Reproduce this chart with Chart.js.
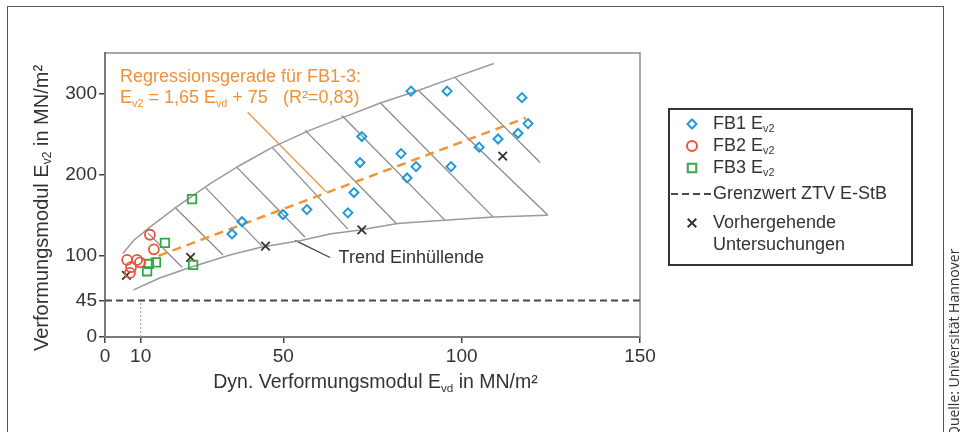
<!DOCTYPE html>
<html>
<head>
<meta charset="utf-8">
<script src="https://cdn.jsdelivr.net/npm/chart.js@4.4.1/dist/chart.umd.min.js"></script>
<style>
  body { margin: 0; background: #fff; }
</style>
</head>
<body>
<canvas id="myChart" width="960" height="432"></canvas>
<script>
/* data */
const xTicks = [0, 10, 50, 100, 150];
const yTicks = [0, 45, 100, 200, 300];

const fb1X = [35.6, 38.4, 49.9, 56.6, 68.1, 69.8, 71.5, 72.0, 83.0, 84.7, 87.2, 85.8, 95.9, 97.0, 104.9, 110.2, 115.8, 118.6, 116.9];
const fb1Y = [127, 142, 151, 157, 153, 178, 215, 247, 226, 196, 210, 303, 303, 210, 234, 244, 251, 263, 295];

const fb2X = [12.6, 13.7, 6.2, 9.0, 9.8, 7.3, 7.0];
const fb2Y = [126, 108, 95, 95, 92, 86, 79];

const fb3X = [24.4, 16.8, 14.3, 12.3, 11.8, 24.7];
const fb3Y = [170, 116, 92, 90, 81, 89];

const prevX = [6, 24, 45, 72, 111.5];
const prevY = [76, 98, 112, 132, 223];

const upperX = [5, 8, 12.5, 20, 29.5, 38, 47, 57.5, 67, 77, 88, 98, 109];
const upperY = [103, 119, 135, 160, 189, 212, 234, 255, 271, 288, 304, 320, 337];
const lowerX = [8, 15.5, 24, 35, 44, 55, 63, 71.5, 82, 95, 109, 124];
const lowerY = [58, 73, 86, 101, 111, 119, 127, 132, 140, 144, 148, 150];

const hatchTopX = [12.1, 19.6, 28.0, 37.0, 46.8, 56.1, 66.4, 77.1, 87.8, 98.1];
const hatchTopY = [128, 160, 185, 209, 234, 255, 273, 289, 304, 320];
const hatchBotX = [21.6, 33.1, 44.0, 56.1, 68.1, 81.9, 95.3, 108.8, 124.2, 122.0];
const hatchBotY = [86, 101, 112, 123, 133, 139, 144, 148, 150, 215];

const regX = [15, 118];
const regY = [100, 270];
const grenzwert = 45;
const markX = 10;

const calloutRegX = [40, 62];
const calloutRegY = [277, 179];
const calloutTrendX = [53.3, 63.1];
const calloutTrendY = [119, 98];

/* label anchors (data units) */
const regLabelAt = { x: 4.2, y1: 320, y2: 294 };
const trendLabelAt = { x: 65.5, y: 97 };

const FONT = '"Liberation Sans", Arial, sans-serif';
const TXT = '#333333';
const ORANGE = '#f0913a';

const pts = (xs, ys) => xs.map((x, i) => ({ x: x, y: ys[i] }));

function lineSet(data, color, width, dash) {
  return {
    data: data,
    showLine: true,
    borderColor: color,
    borderWidth: width,
    borderDash: dash || [],
    pointRadius: 0,
    fill: false,
    order: 10,
  };
}

const styles = {
  fb1: { pointStyle: 'rectRot', radius: 4.5, borderWidth: 2, color: '#1f9ad8' },
  fb2: { pointStyle: 'circle', radius: 5, borderWidth: 1.8, color: '#e8553c' },
  fb3: { pointStyle: 'rect', radius: 6, borderWidth: 1.8, color: '#35a845' },
  prev: { pointStyle: 'crossRot', radius: 6, borderWidth: 1.8, color: '#333333' },
};

function pointSet(data, st) {
  return {
    data: data,
    showLine: false,
    pointStyle: st.pointStyle,
    pointRadius: st.radius,
    pointBorderWidth: st.borderWidth,
    pointBorderColor: st.color,
    pointBackgroundColor: 'rgba(0,0,0,0)',
    order: 1,
  };
}

const datasets = [];
datasets.push(lineSet(pts(upperX, upperY), '#9a9a9a', 1.5));
datasets.push(lineSet(pts(lowerX, lowerY), '#9a9a9a', 1.5));
for (let i = 0; i < hatchTopX.length; i++) {
  datasets.push(lineSet([{ x: hatchTopX[i], y: hatchTopY[i] }, { x: hatchBotX[i], y: hatchBotY[i] }], '#8a8a8a', 1.3));
}
datasets.push(lineSet([{ x: 0, y: grenzwert }, { x: 150, y: grenzwert }], '#4a4a4a', 2, [7, 4]));
datasets.push(lineSet([{ x: markX, y: 0 }, { x: markX, y: grenzwert }], '#999999', 1, [2, 2]));
datasets.push(lineSet(pts(calloutRegX, calloutRegY), ORANGE, 1.2));
datasets.push(lineSet(pts(calloutTrendX, calloutTrendY), '#444444', 1.3));
datasets.push(Object.assign(lineSet(pts(regX, regY), '#f29433', 2.5, [9, 6]), { order: 5 }));
datasets.push(pointSet(pts(fb1X, fb1Y), styles.fb1));
datasets.push(pointSet(pts(fb2X, fb2Y), styles.fb2));
datasets.push(pointSet(pts(fb3X, fb3Y), styles.fb3));
datasets.push(pointSet(pts(prevX, prevY), styles.prev));

/* text with subscripts: parts = [[text, isSub], ...] */
function richText(ctx, parts, x, y, size, align) {
  let w = 0;
  parts.forEach(p => {
    ctx.font = (p[1] ? size * 0.6 : size) + 'px ' + FONT;
    w += ctx.measureText(p[0]).width;
  });
  let cx = align === 'center' ? x - w / 2 : x;
  ctx.textAlign = 'left';
  ctx.textBaseline = 'middle';
  parts.forEach(p => {
    const s = p[1] ? size * 0.6 : size;
    ctx.font = s + 'px ' + FONT;
    ctx.fillText(p[0], cx, p[1] ? y + size * 0.3 : y);
    cx += ctx.measureText(p[0]).width;
  });
}

function marker(ctx, st, x, y) {
  ctx.save();
  ctx.strokeStyle = st.color;
  ctx.fillStyle = 'rgba(0,0,0,0)';
  Chart.helpers.drawPoint(ctx, { pointStyle: st.pointStyle, radius: st.radius, borderWidth: st.borderWidth, rotation: 0 }, x, y);
  ctx.restore();
}

const decor = {
  id: 'decor',
  beforeDraw(chart) {
    const ctx = chart.ctx;
    ctx.save();
    ctx.strokeStyle = '#555';
    ctx.lineWidth = 1;
    ctx.strokeRect(7.5, 6.5, 936, 440);
    ctx.restore();
  },
  beforeDatasetsDraw(chart) {
    const ctx = chart.ctx, a = chart.chartArea;
    ctx.save();
    ctx.strokeStyle = '#8c8c8c';
    ctx.lineWidth = 1.5;
    ctx.strokeRect(a.left, a.top, a.right - a.left, a.bottom - a.top);
    ctx.restore();
  },
  afterDraw(chart) {
    const ctx = chart.ctx, a = chart.chartArea;
    const xs = chart.scales.x, ys = chart.scales.y;
    ctx.save();

    // axis titles
    ctx.fillStyle = TXT;
    richText(ctx, [['Dyn. Verformungsmodul E'], ['vd', 1], [' in MN/m²']], (a.left + a.right) / 2 + 3, 383, 19.5, 'center');
    ctx.save();
    ctx.translate(42, 208);
    ctx.rotate(-Math.PI / 2);
    richText(ctx, [['Verformungsmodul E'], ['v2', 1], [' in MN/m²']], 0, 0, 20, 'center');
    ctx.restore();

    // regression label
    ctx.fillStyle = ORANGE;
    const rx = xs.getPixelForValue(regLabelAt.x);
    richText(ctx, [['Regressionsgerade für FB1-3:']], rx, ys.getPixelForValue(regLabelAt.y1), 18);
    richText(ctx, [['E'], ['v2', 1], [' = 1,65 E'], ['vd', 1], [' + 75   (R²=0,83)']], rx, ys.getPixelForValue(regLabelAt.y2), 18);

    // trend label
    ctx.fillStyle = TXT;
    richText(ctx, [['Trend Einhüllende']], xs.getPixelForValue(trendLabelAt.x), ys.getPixelForValue(trendLabelAt.y), 18);

    // legend box
    ctx.strokeStyle = '#2e3440';
    ctx.lineWidth = 2;
    ctx.strokeRect(669, 109, 243, 156);
    const mx = 692, tx = 713;
    marker(ctx, styles.fb1, mx, 124);
    ctx.fillStyle = TXT;
    richText(ctx, [['FB1 E'], ['v2', 1]], tx, 124, 18);
    marker(ctx, styles.fb2, mx, 146);
    ctx.fillStyle = TXT;
    richText(ctx, [['FB2 E'], ['v2', 1]], tx, 146, 18);
    marker(ctx, styles.fb3, mx, 168);
    ctx.fillStyle = TXT;
    richText(ctx, [['FB3 E'], ['v2', 1]], tx, 168, 18);
    ctx.strokeStyle = '#4a4a4a';
    ctx.lineWidth = 2;
    ctx.setLineDash([7, 4]);
    ctx.beginPath();
    ctx.moveTo(671, 194);
    ctx.lineTo(711, 194);
    ctx.stroke();
    ctx.setLineDash([]);
    ctx.fillStyle = TXT;
    richText(ctx, [['Grenzwert ZTV E-StB']], tx, 194, 18);
    marker(ctx, styles.prev, mx, 223);
    ctx.fillStyle = TXT;
    richText(ctx, [['Vorhergehende']], tx, 223, 18);
    richText(ctx, [['Untersuchungen']], tx, 245, 18);

    // source note
    ctx.translate(955, 437);
    ctx.rotate(-Math.PI / 2);
    ctx.font = '14px "Open Sans", sans-serif';
    ctx.fillStyle = '#333';
    ctx.textAlign = 'left';
    ctx.textBaseline = 'middle';
    ctx.fillText('Quelle: Universität Hannover', 0, 0);
    ctx.restore();
  }
};

let ctx = document.getElementById('myChart').getContext('2d');
let myChart = new Chart(ctx, {
  type: 'scatter',
  data: { datasets: datasets },
  options: {
    responsive: false,
    animation: false,
    layout: { padding: { top: 53, right: 320, bottom: 0, left: 0 } },
    plugins: {
      legend: { display: false },
      tooltip: { enabled: false },
    },
    scales: {
      x: {
        type: 'linear',
        min: 0,
        max: 150,
        afterFit: s => { s.height = 95; },
        afterBuildTicks: s => { s.ticks = xTicks.map(v => ({ value: v })); },
        ticks: { font: { size: 19, family: FONT }, color: TXT, padding: 2, maxRotation: 0 },
        grid: { drawOnChartArea: false, tickLength: 6, color: '#444', lineWidth: 1.5 },
        border: { color: '#444', width: 2 },
      },
      y: {
        type: 'linear',
        min: 0,
        max: 350,
        afterFit: s => { s.width = 105; },
        afterBuildTicks: s => { s.ticks = yTicks.map(v => ({ value: v })); },
        ticks: { font: { size: 19, family: FONT }, color: TXT, padding: 2 },
        grid: { drawOnChartArea: false, tickLength: 6, color: '#444', lineWidth: 1.5 },
        border: { color: '#444', width: 2 },
      },
    },
  },
  plugins: [decor],
});
</script>
</body>
</html>
